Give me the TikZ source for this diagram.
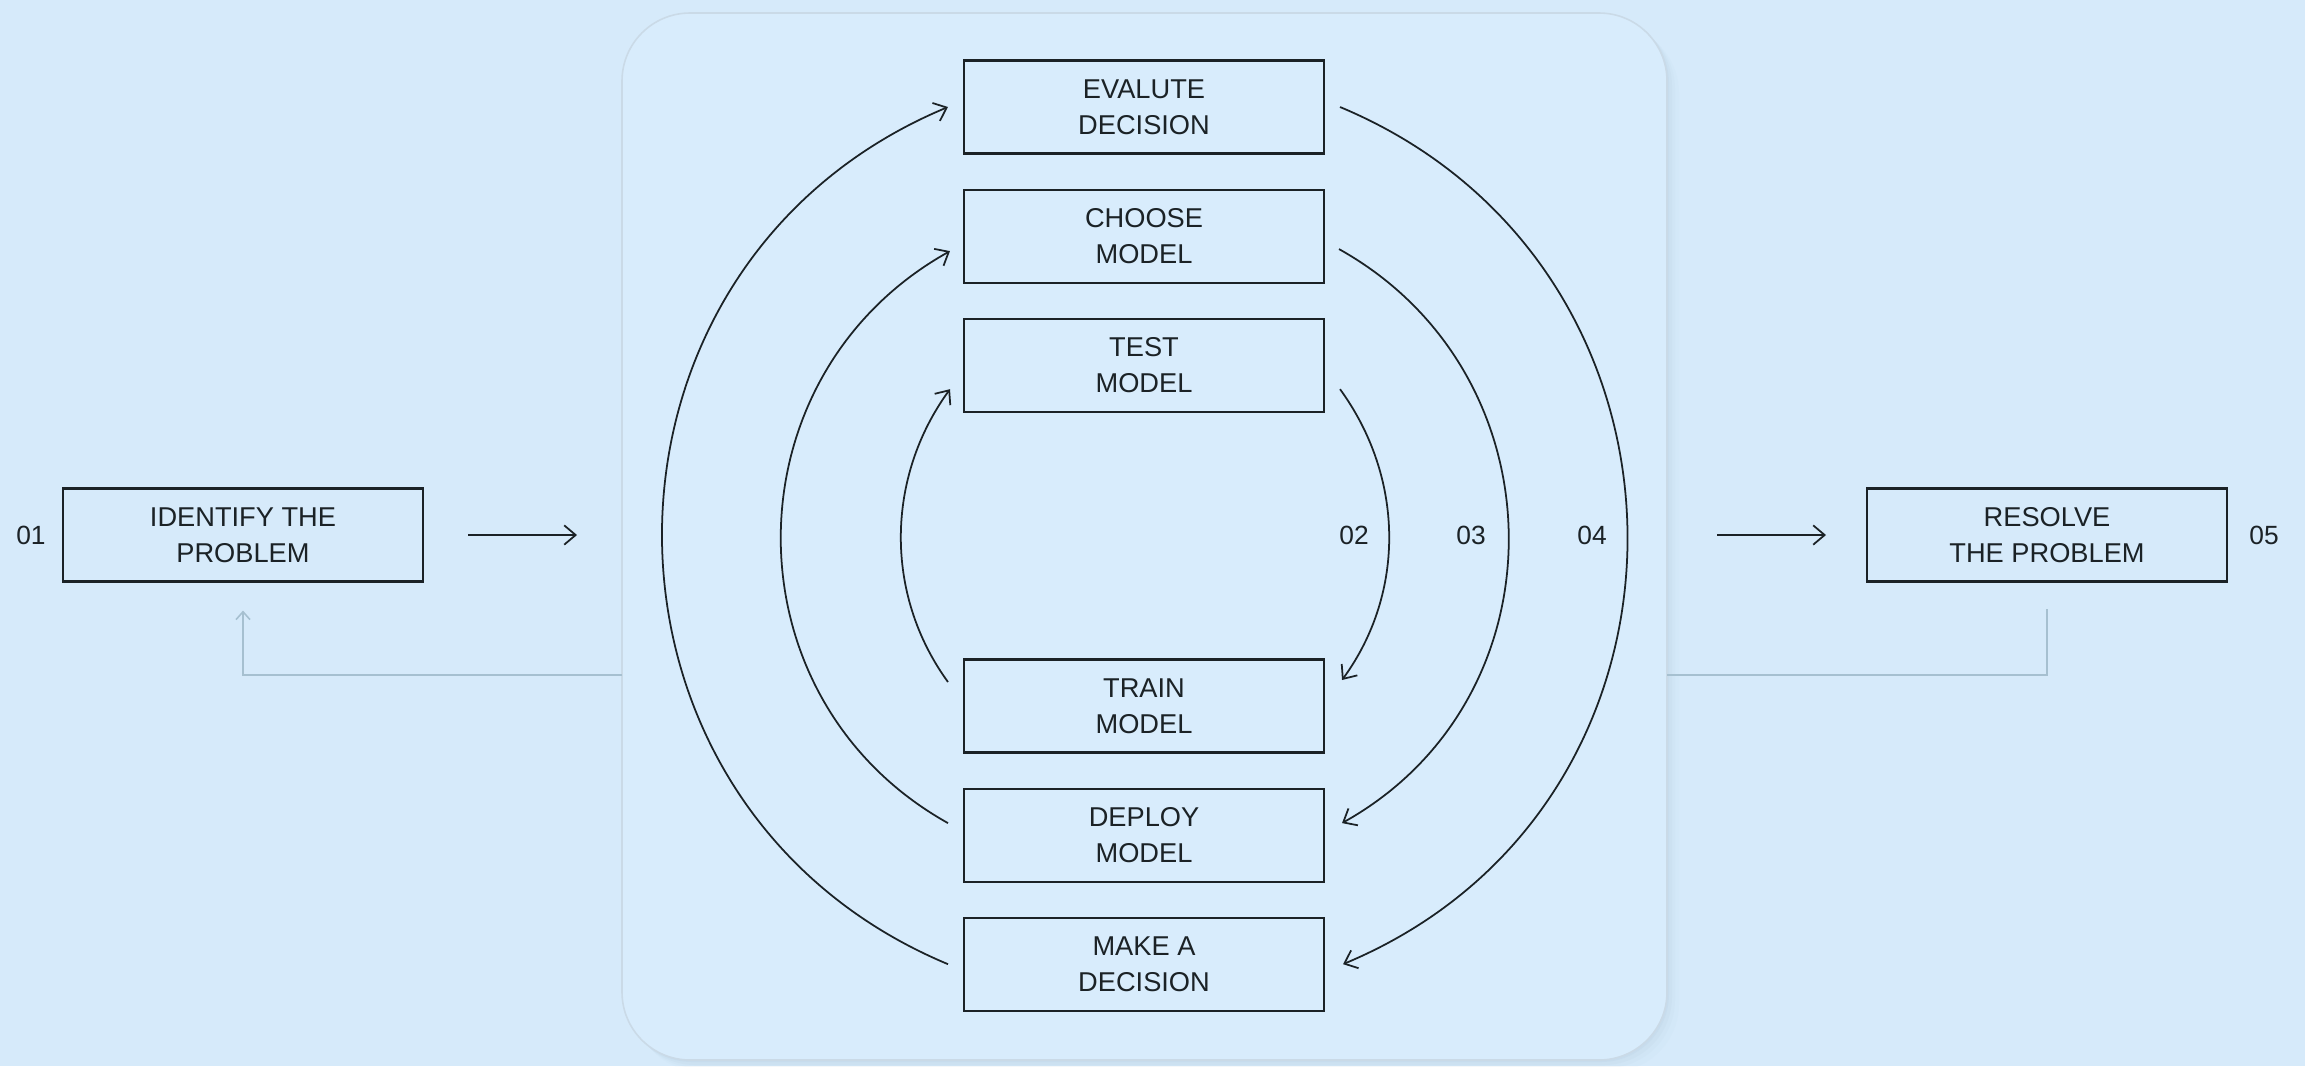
\documentclass[tikz,border=0pt]{standalone}
\usepackage{fontspec}
\setmainfont{Liberation Sans}
\usetikzlibrary{arrows.meta,positioning}
\definecolor{bgblue}{HTML}{D6EAFA}
\definecolor{panelblue}{HTML}{D8ECFC}
\definecolor{panelrim}{HTML}{B3CADC}
\definecolor{ink}{HTML}{1B2226}
\definecolor{loopgrey}{HTML}{A6C0D0}

\begin{document}
\begin{tikzpicture}[x=0.02cm, y=-0.02cm, >={Straight Barb[length=6.5pt,width=11pt]},
		stepbox/.style={draw=ink, line width=1.2pt, minimum width=7.2cm, minimum height=1.86cm,
				inner sep=0pt, align=center, text=ink, font=\fontsize{15.5}{20.5}\selectfont},
		numlabel/.style={text=ink, font=\fontsize{15}{17}\selectfont},
		flow/.style={draw=ink, line width=1pt, ->},
		feedback/.style={draw=loopgrey, line width=0.9pt}]
			% --- Background ---
			\fill[bgblue] (0,0) rectangle (2305,1066);
			\useasboundingbox (0,0) rectangle (2305,1066);

			% --- Central card with soft shadow ---
			\foreach \s/\op in {12/0.06, 8/0.08, 5/0.12, 2/0.18}{
					\fill[panelrim, opacity=\op, rounded corners=1.36cm] (622+\s,13+\s) rectangle (1667+\s,1060+\s);
				}
			\fill[panelblue, rounded corners=1.36cm] (622,13) rectangle (1667,1060);
			\draw[panelrim!70, line width=0.9pt, rounded corners=1.36cm] (622,13) rectangle (1667,1060);

			% --- Stage boxes ---
			\node[stepbox] (evaluate) at (1144,107) {EVALUTE\\DECISION};
			\node[stepbox, below=0.68cm of evaluate] (choose) {CHOOSE\\MODEL};
			\node[stepbox, below=0.68cm of choose] (test) {TEST\\MODEL};
			\node[stepbox] (train) at (1144,706) {TRAIN\\MODEL};
			\node[stepbox, below=0.68cm of train] (deploy) {DEPLOY\\MODEL};
			\node[stepbox, below=0.68cm of deploy] (decide) {MAKE A\\DECISION};

			\node[stepbox] (identify) at (243,535) {IDENTIFY THE\\PROBLEM};
			\node[stepbox] (resolve) at (2047,535) {RESOLVE\\THE PROBLEM};

			% --- Step numbers ---
			\node[numlabel] (n01) at (31,535) {01};
			\node[numlabel] (n02) at (1354,535) {02};
			\node[numlabel] (n03) at (1471,535) {03};
			\node[numlabel] (n04) at (1592,535) {04};
			\node[numlabel] (n05) at (2264,535) {05};

			% --- In and out of the card ---
			\coordinate (intoCard) at (577,535);
			\coordinate (outOfCard) at (1717,535);
			\draw[flow] ([shift={(44,0)}]identify.east) -- (intoCard);
			\draw[flow] (outOfCard) -- ([shift={(-40,0)}]resolve.west);

			% --- Grey return lines ---
			\coordinate (cardL) at (622,675);
			\coordinate (cardR) at (1667,675);
			\draw[feedback, -{Straight Barb[length=4.5pt,width=8pt]}] (cardL) -| ([shift={(0,28)}]identify.south);
			\draw[feedback] (cardR) -| ([shift={(0,26)}]resolve.south);

			% --- Loop 02 ---
			\draw[flow] ([shift={(-15,-24)}]train.west) .. controls +(-64,-88) and +(-64,88) .. ([shift={(-13,24)}]test.west);
			\draw[flow] ([shift={(15,24)}]test.east) .. controls +(64,88) and +(64,-88) .. ([shift={(17,-26)}]train.east);

			% --- Loop 03 ---
			\draw[flow] ([shift={(-15,-12)}]deploy.west) .. controls +(-224,-125) and +(-224,125) .. ([shift={(-13,15)}]choose.west);
			\draw[flow] ([shift={(14,13)}]choose.east) .. controls +(224,125) and +(224,-125) .. ([shift={(17,-12)}]deploy.east);

			% --- Loop 04 ---
			\draw[flow] ([shift={(-15,0)}]decide.west) .. controls +(-381,-159) and +(-381,159) .. ([shift={(-15,0)}]evaluate.west);
			\draw[flow] ([shift={(15,0)}]evaluate.east) .. controls +(381,159) and +(381,-159) .. ([shift={(18,0)}]decide.east);
		\end{tikzpicture}
\end{document}
